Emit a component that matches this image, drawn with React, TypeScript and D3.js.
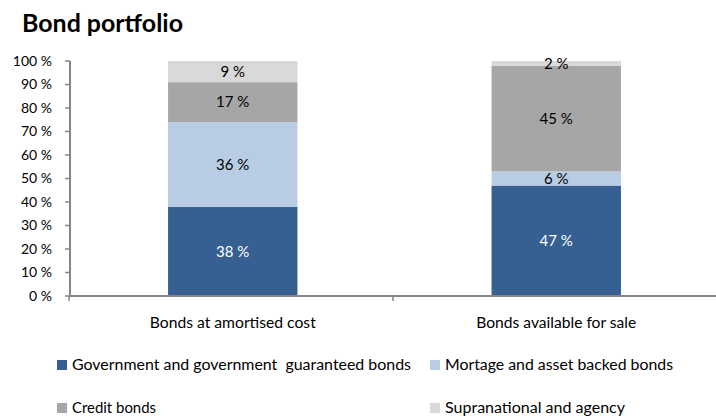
import React from "react";
import * as d3 from "d3";

const categories = ["Bonds at amortised cost", "Bonds available for sale"];
const seriesNames = [
  "Government and government  guaranteed bonds",
  "Mortage and asset backed bonds",
  "Credit bonds",
  "Supranational and agency",
];
const government = [38, 47];
const mortgage = [36, 6];
const credit = [17, 45];
const supranational = [9, 2];
const yTicks = [0, 10, 20, 30, 40, 50, 60, 70, 80, 90, 100];

const colors = ["#366092", "#b8cce4", "#a6a6a6", "#d9d9d9"];
const labelColors = ["#ffffff", "#000000", "#000000", "#000000"];
const FONT = "Lato, 'Open Sans', sans-serif";

export default function App() {
  const W = 716, H = 416;
  const x = d3.scaleBand<string>().domain(categories).range([71, 718]).paddingInner(0.6).paddingOuter(0.3);
  const y = d3.scaleLinear().domain([0, 100]).range([296, 61]);
  const series = [government, mortgage, credit, supranational];
  const rows = categories.map((c, i) => ({
    cat: c,
    s0: government[i], s1: mortgage[i], s2: credit[i], s3: supranational[i],
  }));
  const stack = d3.stack<any>().keys(["s0", "s1", "s2", "s3"])(rows);
  const axisColor = "#868686";
  const legendPos = [
    [57, 365], [430, 365], [57, 408], [430, 408],
  ];
  const legendLens = [339, 228, 84, 180];
  const catLens = [166, 160];
  return (
    <svg width={W} height={H} style={{ position: "absolute", left: 0, top: 0 }} fontFamily={FONT}>
      <rect width={W} height={H} fill="#fff" />
      <text x={22} y={32} fontSize={24} fontWeight="bold" fill="#000" textLength={161} lengthAdjust="spacingAndGlyphs">Bond portfolio</text>
      {stack.map((layer, si) =>
        layer.map((d, ci) => {
          const x0 = x(categories[ci])!;
          const bw = x.bandwidth();
          const top = y(d[1]), bot = y(d[0]);
          return (
            <g key={`${si}-${ci}`}>
              <rect x={x0} y={top} width={bw} height={bot - top} fill={colors[si]} />
              <text x={x0 + bw / 2} y={(top + bot) / 2} dy="0.35em" textAnchor="middle" fontSize={15} fill={labelColors[si]}>
                {series[si][ci]} %
              </text>
            </g>
          );
        })
      )}
      {/* y axis */}
      <line x1={70} x2={70} y1={y(100)} y2={y(0)} stroke={axisColor} strokeWidth={2} />
      {yTicks.map((t) => (
        <g key={t}>
          <line x1={65} x2={70} y1={y(t)} y2={y(t)} stroke={axisColor} strokeWidth={1.5} />
          <text x={52} y={y(t)} dy="0.35em" textAnchor="end" fontSize={14} fill="#000">{t} %</text>
        </g>
      ))}
      {/* x axis */}
      <line x1={69} x2={716} y1={y(0)} y2={y(0)} stroke={axisColor} strokeWidth={2} />
      {[69, 393].map((xx) => (
        <line key={xx} x1={xx} x2={xx} y1={y(0)} y2={y(0) + 5} stroke={axisColor} strokeWidth={1.5} />
      ))}
      {categories.map((c, i) => (
        <text key={c} x={x(c)! + x.bandwidth() / 2} y={328} textAnchor="middle" fontSize={15.5} fill="#000" textLength={catLens[i]} lengthAdjust="spacingAndGlyphs">{c}</text>
      ))}
      {seriesNames.map((n, i) => (
        <g key={n}>
          <rect x={legendPos[i][0]} y={legendPos[i][1] - 5} width={10} height={10} fill={colors[i]} />
          <text x={legendPos[i][0] + 15} y={legendPos[i][1]} dy="0.35em" fontSize={15.5} fill="#000" textLength={legendLens[i]} lengthAdjust="spacingAndGlyphs" style={{ whiteSpace: "pre" }}>{n}</text>
        </g>
      ))}
    </svg>
  );
}
